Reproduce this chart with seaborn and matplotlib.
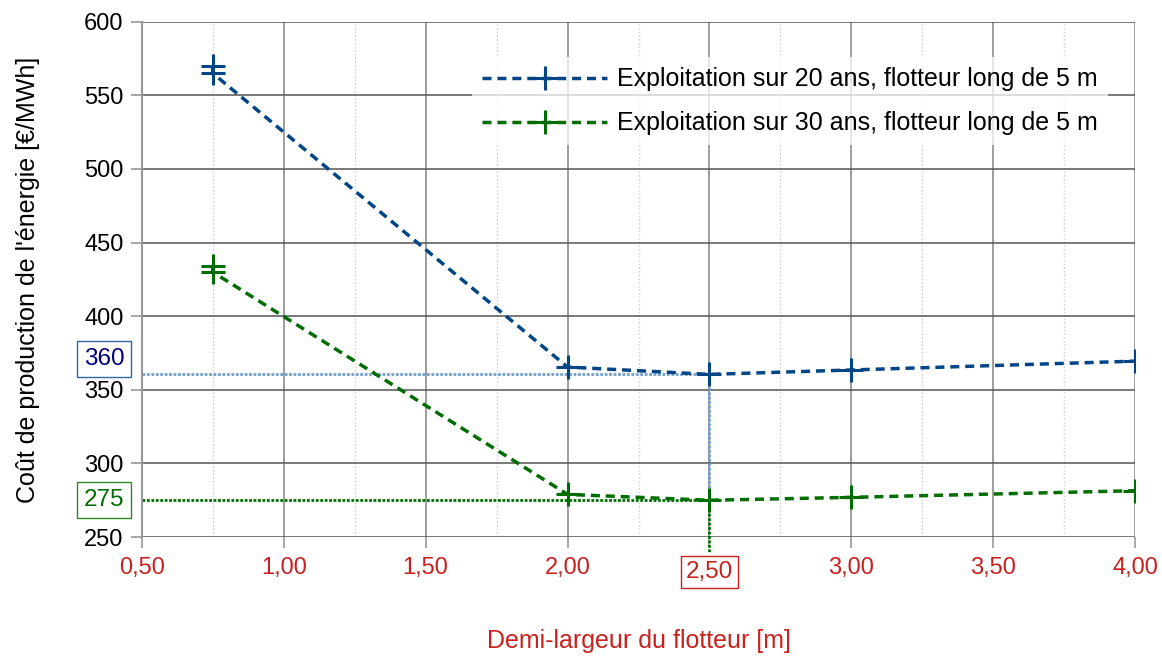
import matplotlib
matplotlib.use("Agg")
import matplotlib.pyplot as plt
import matplotlib.ticker as mticker
from matplotlib.lines import Line2D
import pandas as pd
import seaborn as sns

# data
largeur = [0.75, 0.75, 2.0, 2.5, 3.0, 4.0]
cout_20 = [570, 565, 365.5, 360.5, 363.5, 369.5]
cout_30 = [434, 430, 279, 275, 277, 281.5]
series = ["Exploitation sur 20 ans, flotteur long de 5 m",
          "Exploitation sur 30 ans, flotteur long de 5 m"]
couleurs = ["#004586", "#006d00"]
x_ticks = [0.5, 1.0, 1.5, 2.0, 2.5, 3.0, 3.5, 4.0]

df = pd.concat([
    pd.DataFrame({"x": largeur, "y": cout_20, "serie": series[0]}),
    pd.DataFrame({"x": largeur, "y": cout_30, "serie": series[1]}),
])

sns.set_theme(style="white")
plt.rcParams["font.family"] = ["Liberation Sans", "DejaVu Sans"]
plt.rcParams["text.color"] = "black"

fig, ax = plt.subplots(figsize=(11.62, 6.59), dpi=100)
fig.subplots_adjust(left=0.122, right=0.977, top=0.967, bottom=0.185)

dash = (0, (2.6, 1.7))
sns.lineplot(data=df, x="x", y="y", hue="serie", palette=couleurs,
             estimator=None, sort=False, units="serie", legend=False, ax=ax,
             lw=2.5, linestyle=dash, marker="+", markersize=17, mew=2.2, zorder=3)
for line in ax.lines:
    line.set_markeredgecolor(line.get_color())

# optimum guide lines
dot = (0, (1, 0.6))
ax.plot([0.5, 2.5], [361, 361], color="#729fcf", lw=2, ls=dot, zorder=2)
ax.plot([0.5, 2.5], [275, 275], color="#006d00", lw=2, ls=dot, zorder=2)
ax.plot([2.5, 2.5], [361, 275], color="#729fcf", lw=2, ls=dot, zorder=2)
ax.plot([2.5, 2.5], [275, 240], color="#006d00", lw=2, ls=dot, zorder=2, clip_on=False)

ax.set_xlim(0.5, 4.0)
ax.set_ylim(250, 600)
ax.set_xticks(x_ticks)
ax.set_xticklabels(["" if v == 2.5 else f"{v:.2f}".replace(".", ",") for v in x_ticks])
ax.xaxis.set_minor_locator(mticker.MultipleLocator(0.25))
ax.yaxis.set_major_locator(mticker.MultipleLocator(50))

ax.grid(which="major", axis="x", color="#8c8c8c", lw=1.2)
ax.grid(which="major", axis="y", color="#555555", lw=1.1)
ax.grid(which="minor", axis="x", color="#cccccc", lw=1, ls=":")
for s in ax.spines.values():
    s.set_visible(False)
ax.spines["left"].set_visible(True)
ax.spines["left"].set_color("#999999")
ax.spines["left"].set_linewidth(1.5)

ax.tick_params(axis="both", which="major", length=8, width=1.2, color="#999999",
               labelsize=17, bottom=True, left=True)
ax.tick_params(axis="x", labelcolor="#c9211e", pad=6)
ax.tick_params(axis="y", labelcolor="black", pad=5)

ax.set_xlabel("Demi-largeur du flotteur [m]", fontsize=18, color="#c9211e", labelpad=36)
ax.set_ylabel("Coût de production de l'énergie [€/MWh]", fontsize=18, color="black",
              labelpad=32)

# boxed values
box = "square,pad=0.28"
ax.text(-0.038, 371, "360", fontsize=17.5, color="#000080", ha="center", va="center",
        transform=ax.get_yaxis_transform(), clip_on=False,
        bbox=dict(boxstyle=box, fc="white", ec="#3465a4", lw=1))
ax.text(-0.038, 275, "275", fontsize=17.5, color="#006d00", ha="center", va="center",
        transform=ax.get_yaxis_transform(), clip_on=False,
        bbox=dict(boxstyle=box, fc="white", ec="#2a8a2a", lw=1))
ax.text(2.5, -0.068, "2,50", fontsize=17.5, color="#c9211e", ha="center", va="center",
        transform=ax.get_xaxis_transform(), clip_on=False, zorder=5,
        bbox=dict(boxstyle="square,pad=0.2", fc="white", ec="#c9211e", lw=1))

handles = [Line2D([], [], color=c, lw=2.5, ls=dash, marker="+", markersize=17,
                  mew=2.2, mec=c) for c in couleurs]
leg = ax.legend(handles, series, loc="upper right", bbox_to_anchor=(0.985, 0.955),
                frameon=True, fontsize=18, handlelength=5, numpoints=1,
                labelspacing=0.8, handletextpad=0.4, borderpad=0.4, labelcolor="black")
leg.get_frame().set_facecolor("white")
leg.get_frame().set_alpha(0.75)
leg.get_frame().set_edgecolor("none")

fig.savefig("out.png", dpi=100)
